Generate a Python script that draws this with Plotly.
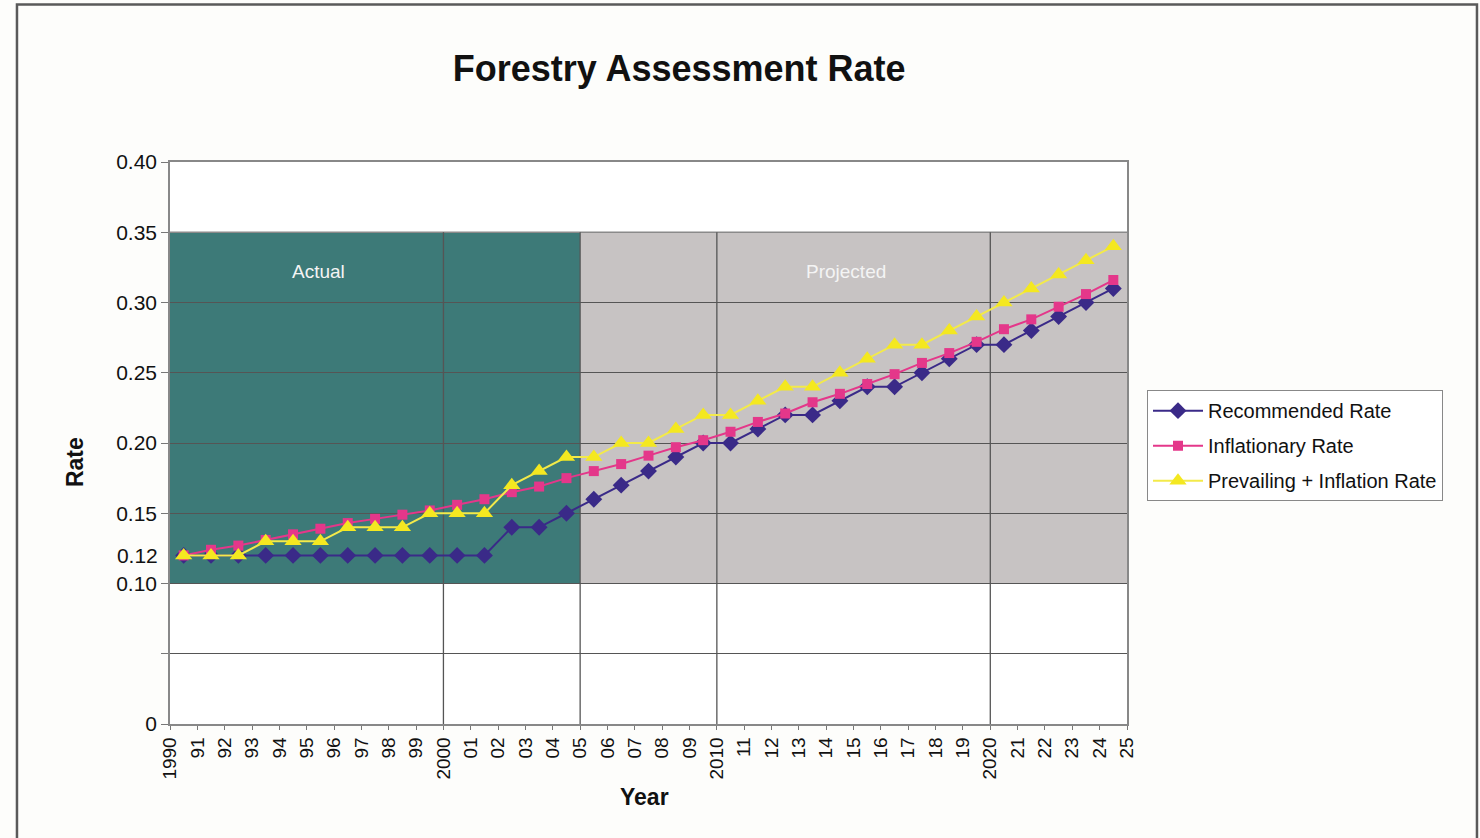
import plotly.graph_objects as go

# Assessment years (each value is plotted at the middle of its year)
years = list(range(1990, 2025))

recommended = [0.12, 0.12, 0.12, 0.12, 0.12, 0.12, 0.12, 0.12, 0.12, 0.12,
               0.12, 0.12, 0.14, 0.14, 0.15, 0.16, 0.17, 0.18, 0.19, 0.20,
               0.20, 0.21, 0.22, 0.22, 0.23, 0.24, 0.24, 0.25, 0.26, 0.27,
               0.27, 0.28, 0.29, 0.30, 0.31]

inflationary = [0.120, 0.124, 0.127, 0.131, 0.135, 0.139, 0.143, 0.146, 0.149, 0.152,
                0.156, 0.160, 0.165, 0.169, 0.175, 0.180, 0.185, 0.191, 0.197, 0.202,
                0.208, 0.215, 0.221, 0.229, 0.235, 0.242, 0.249, 0.257, 0.264, 0.272,
                0.281, 0.288, 0.297, 0.306, 0.316]

prevailing = [0.12, 0.12, 0.12, 0.13, 0.13, 0.13, 0.14, 0.14, 0.14, 0.15,
              0.15, 0.15, 0.17, 0.18, 0.19, 0.19, 0.20, 0.20, 0.21, 0.22,
              0.22, 0.23, 0.24, 0.24, 0.25, 0.26, 0.27, 0.27, 0.28, 0.29,
              0.30, 0.31, 0.32, 0.33, 0.34]

# Axis labelling
tick_years = list(range(1990, 2026))
tick_text = [str(y) if y % 10 == 0 else f"{y % 100:02d}" for y in tick_years]
y_ticks = [0, 0.05, 0.10, 0.15, 0.20, 0.25, 0.30, 0.35, 0.40]
y_text = ["0", "", "0.10", "0.15", "0.20", "0.25", "0.30", "0.35", "0.40"]

# Periods shown as background bands
actual_period = (1990, 2005)
projected_period = (2005, 2025)
band_range = (0.10, 0.35)
divider_years = [2000, 2005, 2010, 2020]

FONT = "Liberation Sans, Arial, sans-serif"
GRID = "#555555"

x_mid = [y + 0.5 for y in years]

fig = go.Figure()

series = [
    ("Recommended Rate", recommended, "#3a2a88", "#3a2a88", "diamond", 13),
    ("Inflationary Rate", inflationary, "#e4378a", "#e4378a", "square", 10),
    ("Prevailing + Inflation Rate", prevailing, "#f3ea4a", "#f4e820", "triangle-up", 15),
]
for i, (name, vals, lc, mc, sym, sz) in enumerate(series):
    fig.add_trace(go.Scatter(
        x=x_mid, y=vals, name=name, mode="lines+markers",
        line=dict(color=lc, width=2),
        marker=dict(symbol=sym, size=sz, color=mc, line=dict(width=0)),
        legendgroup=f"g{i}",
    ))

# invisible trace carrying the extra "0.12" label axis
fig.add_trace(go.Scatter(x=x_mid, y=recommended, yaxis="y2", mode="lines",
                         line=dict(width=0), opacity=0, showlegend=False,
                         hoverinfo="skip"))

# background bands
fig.add_shape(type="rect", xref="x", yref="y", layer="below",
              x0=actual_period[0], x1=actual_period[1],
              y0=band_range[0], y1=band_range[1],
              fillcolor="#3d7a78", line=dict(width=0))
fig.add_shape(type="rect", xref="x", yref="y", layer="below",
              x0=projected_period[0], x1=projected_period[1],
              y0=band_range[0], y1=band_range[1],
              fillcolor="#c7c3c3", line=dict(width=0))
fig.add_shape(type="line", xref="x", yref="y", layer="between",
              x0=actual_period[0], x1=projected_period[1],
              y0=band_range[1], y1=band_range[1],
              line=dict(color="#8a8a8a", width=1.5))

# vertical divider lines from the baseline up to the top of the bands
for yr in divider_years:
    fig.add_shape(type="line", xref="x", yref="y", layer="between",
                  x0=yr, x1=yr, y0=0, y1=band_range[1],
                  line=dict(color=GRID, width=1.3))

# outer frame
fig.add_shape(type="rect", xref="paper", yref="paper",
              x0=-0.1599, x1=1.3657, y0=-0.25, y1=1.2802,
              line=dict(color="#5a5a5a", width=2.5), fillcolor="rgba(0,0,0,0)")

annotations = [
    dict(text="Actual", x=0.1547, y=0.806, xref="paper", yref="paper",
         xanchor="center", yanchor="middle",
         showarrow=False, font=dict(family=FONT, size=19, color="#f4f4f4")),
    dict(text="Projected", x=0.7064, y=0.806, xref="paper", yref="paper",
         xanchor="center", yanchor="middle",
         showarrow=False, font=dict(family=FONT, size=19, color="#f4f4f4")),
    dict(text="<b>Rate</b>", x=-0.0993, y=0.466, xref="paper", yref="paper",
         xanchor="center", yanchor="middle",
         textangle=-90, showarrow=False, font=dict(family=FONT, size=23, color="#111")),
    dict(text="<b>Year</b>", x=0.496, y=-0.13, xref="paper", yref="paper",
         xanchor="center", yanchor="middle",
         showarrow=False, font=dict(family=FONT, size=23, color="#111")),
]

fig.update_layout(
    width=1480, height=838,
    margin=dict(l=170, r=353, t=162, b=114),
    paper_bgcolor="#fdfdfb",
    plot_bgcolor="#ffffff",
    title=dict(text="<b>Forestry Assessment Rate</b>", x=0.532, xref="paper",
               y=1 - 68 / 838, yref="container", xanchor="center", yanchor="middle",
               font=dict(family=FONT, size=36, color="#111")),
    xaxis=dict(range=[1990, 2025], tickmode="array", tickvals=tick_years,
               ticktext=tick_text, tickangle=-90, ticks="outside", ticklen=4,
               tickcolor="#777", showgrid=False, zeroline=False,
               showline=True, linecolor="#888", linewidth=1.5, mirror=True,
               tickfont=dict(family=FONT, size=19, color="#111")),
    yaxis=dict(range=[0, 0.40], tickmode="array", tickvals=y_ticks, ticktext=y_text,
               ticks="outside", ticklen=7, tickcolor="#777",
               showgrid=True, gridcolor=GRID, gridwidth=1.2, zeroline=False,
               showline=True, linecolor="#888", linewidth=1.5, mirror=True,
               tickfont=dict(family=FONT, size=21, color="#111")),
    yaxis2=dict(range=[0, 0.40], overlaying="y", side="left", tickmode="array",
                tickvals=[0.12], ticktext=["0.12"], ticks="outside", ticklen=7,
                tickcolor="rgba(0,0,0,0)", showgrid=False, zeroline=False,
                showline=False, tickfont=dict(family=FONT, size=21, color="#111")),
    legend=dict(x=1.0209, y=0.594, xanchor="left", yanchor="top",
                bordercolor="#888", borderwidth=1, bgcolor="#ffffff",
                traceorder="grouped", tracegroupgap=6, itemwidth=50,
                font=dict(family=FONT, size=20, color="#111")),
    annotations=annotations,
    showlegend=True,
)

fig.write_html("out.html")
